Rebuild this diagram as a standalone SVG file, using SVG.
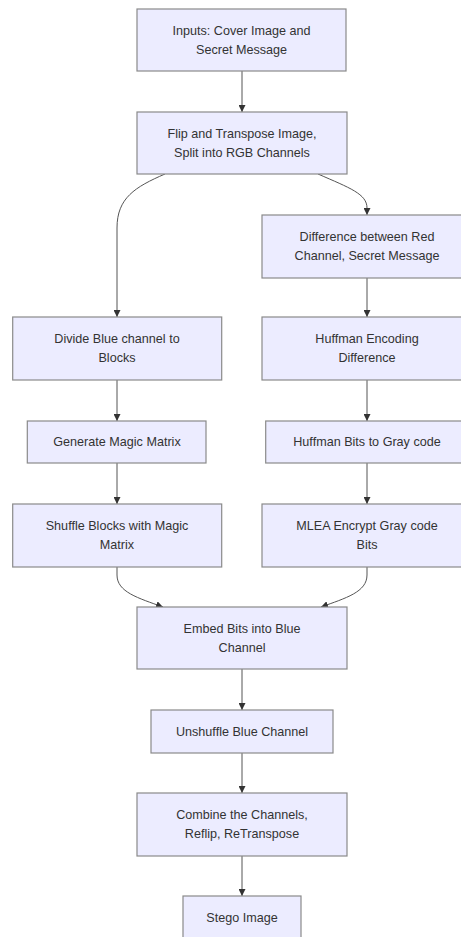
<svg xmlns="http://www.w3.org/2000/svg" width="461" height="937" viewBox="0 0 461 937">
<style>
.node rect{fill:#ECECFF;stroke:#8a8a8a;stroke-width:1.2;}
.node text{font-family:"Liberation Sans",Arial,sans-serif;font-size:12.6px;fill:#333;text-anchor:middle;dominant-baseline:central;}
.edges path{fill:none;stroke:#555;stroke-width:1;marker-end:url(#arrow);}
</style>
<defs>
<marker id="arrow" viewBox="0 0 10 10" refX="10" refY="5" markerUnits="userSpaceOnUse" markerWidth="7" markerHeight="7" orient="auto">
<path d="M0,0 L10,5 L0,10 z" fill="#333"/>
</marker>
</defs>
<rect width="461" height="937" fill="#ffffff"/>
<g class="edges">
<path d="M242,71 L242,112"/>
<path d="M165,174 C135,187 117,198 117,228 L117,317"/>
<path d="M318,174 C350,188 367,194 367,208 L367,215"/>
<path d="M367,278 L367,317"/>
<path d="M117,380 L117,421"/>
<path d="M367,380 L367,421"/>
<path d="M117,463 L117,504"/>
<path d="M367,463 L367,504"/>
<path d="M117,567 L117,575 C117,592 138,598 163,607"/>
<path d="M367,567 L367,575 C367,592 346,598 321,607"/>
<path d="M242,669 L242,710"/>
<path d="M242,753 L242,793"/>
<path d="M242,856 L242,896"/>
</g>
<g id="n1" class="node"><rect x="137" y="9" width="209" height="62"/><text x="241.5" y="30.5">Inputs: Cover Image and</text><text x="241.5" y="49.5">Secret Message</text></g>
<g id="n2" class="node"><rect x="137" y="112" width="210" height="62"/><text x="242" y="133.5">Flip and Transpose Image,</text><text x="242" y="152.5">Split into RGB Channels</text></g>
<g id="n3" class="node"><rect x="262" y="215" width="210" height="63"/><text x="367" y="236.5">Difference between Red</text><text x="367" y="255.5">Channel, Secret Message</text></g>
<g id="n4" class="node"><rect x="12.7" y="317" width="209" height="63"/><text x="117" y="339">Divide Blue channel to</text><text x="117" y="358">Blocks</text></g>
<g id="n5" class="node"><rect x="262" y="317" width="210" height="63"/><text x="367" y="339">Huffman Encoding</text><text x="367" y="358">Difference</text></g>
<g id="n6" class="node"><rect x="27.3" y="421" width="178.7" height="42"/><text x="117" y="442">Generate Magic Matrix</text></g>
<g id="n7" class="node"><rect x="265.7" y="421" width="202.6" height="42"/><text x="367" y="442">Huffman Bits to Gray code</text></g>
<g id="n8" class="node"><rect x="12.7" y="504" width="209" height="63"/><text x="117" y="526">Shuffle Blocks with Magic</text><text x="117" y="545">Matrix</text></g>
<g id="n9" class="node"><rect x="262" y="504" width="210" height="63"/><text x="367" y="526">MLEA Encrypt Gray code</text><text x="367" y="545">Bits</text></g>
<g id="n10" class="node"><rect x="137" y="607" width="210" height="62"/><text x="242" y="628.5">Embed Bits into Blue</text><text x="242" y="647.5">Channel</text></g>
<g id="n11" class="node"><rect x="151" y="710" width="182" height="43"/><text x="242" y="731.5">Unshuffle Blue Channel</text></g>
<g id="n12" class="node"><rect x="137" y="793" width="210" height="63"/><text x="242" y="815">Combine the Channels,</text><text x="242" y="834">Reflip, ReTranspose</text></g>
<g id="n13" class="node"><rect x="183" y="896" width="118" height="43"/><text x="242" y="918">Stego Image</text></g>
</svg>
